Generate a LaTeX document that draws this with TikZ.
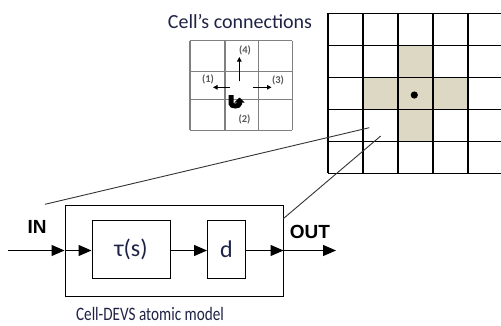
\documentclass[tikz,border=0pt]{standalone}
\usepackage{fontspec}
\setmainfont{Carlito}
\newfontfamily\arialfont{Liberation Sans}
\newfontfamily\narrowfont[FakeStretch=0.8]{Carlito}
\usepackage{xcolor}
\usetikzlibrary{positioning,arrows.meta,calc}
\definecolor{cellshade}{RGB}{221,216,196}
\definecolor{titlecol}{RGB}{30,35,70}

\begin{document}
\begin{tikzpicture}[x=1pt, y=-1pt,
    block/.style={rectangle, draw, line width=1pt, inner sep=0pt, text=titlecol, font=\fontsize{24}{28}\selectfont},
    arrow/.style={-{Triangle[length=13pt,width=11pt]}, line width=1.2pt},
    small arrow/.style={-{Triangle[length=4.5pt,width=4.5pt]}, line width=0.8pt},
    port/.style={font=\arialfont\bfseries\fontsize{19}{22}\selectfont},
    tag/.style={font=\bfseries\fontsize{10.5}{12}\selectfont, text=black!65, inner sep=0pt}
]
    \useasboundingbox (0,0) rectangle (501,325);

    % neighbourhood sketch
    \node[font=\fontsize{20}{24}\selectfont, text=titlecol] (title) at (240,21.5) {Cell\symbol{"27}s connections};
    \foreach \x in {190,225,258.3,292.3}
        \draw[gray, line width=1.2pt] (\x,40.7) -- (\x,130.3);
    \foreach \y in {40.7,71.3,99.7,130.3}
        \draw[gray, line width=1.2pt] (190,\y) -- (292.3,\y);
    \draw[small arrow] (239.3,81.3) -- (239.3,57);
    \draw[small arrow] (230,87.3) -- (213,87.3);
    \draw[small arrow] (253.3,87.3) -- (271.5,87.3);
    \draw[line width=5pt, -{Triangle[length=5pt,width=10pt]}] (231,95) -- (231,103.5) to[out=-90,in=-90] (239.5,103.5) -- (239.5,97.5);
    \node[tag] (n1) at (208,79) {(1)};
    \node[tag] (n2) at (244.5,119) {(2)};
    \node[tag] (n3) at (278,80) {(3)};
    \node[tag] (n4) at (245,50.5) {(4)};

    % cell space
    \foreach \c/\r in {2/1,1/2,2/2,3/2,2/3}
        \fill[cellshade] (328+35*\c,13.3+32*\r) rectangle ++(35,32);
    \foreach \i in {0,...,5} {
        \draw[line width=1.2pt] (328+35*\i,13.3) -- (328+35*\i,173.3);
        \draw[line width=1.2pt] (328,13.3+32*\i) -- (503,13.3+32*\i);
    }
    \fill (414.3,95) circle (3.6);

    % atomic model
    \node[block, minimum width=218pt, minimum height=91pt] (cell) at (174,250.5) {};
    \node[block, minimum width=78pt, minimum height=58pt] (tau) at (131,249) {τ(s)};
    \node[block, minimum width=38pt, minimum height=58pt] (delay) at (226.5,249) {d};
    \node[port] (in) at (37,226.5) {IN};
    \node[port] (out) at (310,231.5) {OUT};
    \node[font=\narrowfont\fontsize{19}{22}\selectfont, text=titlecol] (caption) at (150,314) {Cell-DEVS atomic model};

    \coordinate (src) at (8,250.5);
    \coordinate (dst) at (336,250.5);
    \draw[arrow] (src) -- (cell.west);
    \draw[arrow] (cell.west) -- (tau.west |- cell.west);
    \draw[arrow] (tau.east |- cell.west) -- (delay.west |- cell.west);
    \draw[arrow] (delay.east |- cell.west) -- (cell.east);
    \draw[arrow] (cell.east) -- (dst);

    % zoom lines
    \coordinate (z1) at (369.3,127.7);
    \coordinate (z2) at (380.7,136);
    \coordinate (corner) at (45,204.3);
    \draw[black!80, line width=0.9pt] (z1) -- (corner);
    \draw[black!80, line width=0.9pt] (z2) -- ($(cell.north east)+(0,14)$);
\end{tikzpicture}
\end{document}
